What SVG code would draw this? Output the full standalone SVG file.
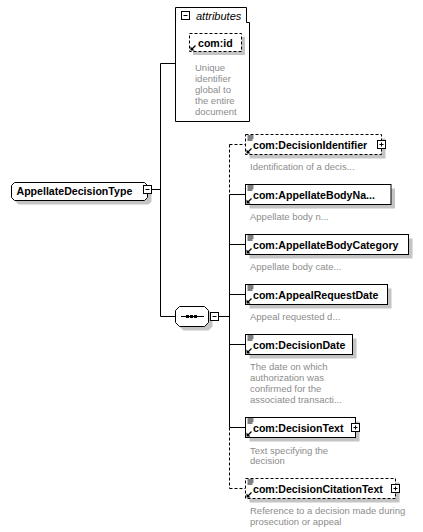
<svg xmlns="http://www.w3.org/2000/svg" width="423" height="532" viewBox="0 0 423 532">
<style>
.box{fill:#fff;stroke:#000;stroke-width:1}
.dash{stroke-dasharray:3,2}
.sh{fill:#c4c4c4}
.ln{fill:none;stroke:#000;stroke-width:1}
.nm{font-family:"Liberation Sans",Arial,sans-serif;font-weight:bold;font-size:10.6px;fill:#000}
.ds{font-family:"Liberation Sans",Arial,sans-serif;font-size:9.5px;fill:#8c8c8c}
.it{font-family:"Liberation Sans",Arial,sans-serif;font-style:italic;font-size:11px;fill:#000}
.pm{fill:#fff;stroke:#000;stroke-width:1}
</style>
<defs>
<g id="eq"><path d="M2,1.5h6M2,3.5h6M2,5.5h5" stroke="#000" stroke-width="1" fill="none"/></g>
<g id="ar"><path d="M1,-1 L1,-5 L5,-1 Z" fill="#000"/><path d="M2,-2 L6,-6" stroke="#000" stroke-width="1.2"/></g>
<g id="minus"><rect class="pm" x="0" y="0" width="8" height="8"/><path d="M2,4h4" stroke="#000"/></g>
<g id="plus"><rect class="pm" x="0" y="0" width="8" height="8"/><path d="M2,4h4M4,2v4" stroke="#000"/></g>
</defs>

<g id="connectors" class="ln">
<path d="M151.5,189.5 H160.5"/>
<path d="M160.5,63.5 V316.5"/>
<path d="M160.5,63.5 H175.5"/>
<path d="M160.5,316.5 H175.5"/>
<path d="M218.5,316.5 H229.5"/>
<path d="M229.5,194.5 V427.5"/>
<path class="dash" d="M229.5,144.5 V194.5"/>
<path class="dash" d="M229.5,427.5 V488.5"/>
<path class="dash" d="M229.5,144.5 H245.5"/>
<path d="M229.5,194.5 H245.5"/>
<path d="M229.5,244.5 H245.5"/>
<path d="M229.5,294.5 H245.5"/>
<path d="M229.5,344.5 H245.5"/>
<path d="M229.5,427.5 H245.5"/>
<path class="dash" d="M229.5,488.5 H245.5"/>
</g>

<g id="root">
<path class="sh" d="M18.5,186.5 H148.5 L151.5,189.5 V201.5 L148.5,204.5 H18.5 L15.5,201.5 V189.5 Z"/>
<path class="box" d="M14.5,182.5 H144.5 L147.5,185.5 V197.5 L144.5,200.5 H14.5 L11.5,197.5 V185.5 Z"/>
<text class="nm" x="16.5" y="195">AppellateDecisionType</text>
<use href="#minus" x="143.5" y="185.5"/>
</g>

<g id="attributes">
<path class="box" d="M175.5,7.5 H246.5 V22.5 H249.5 V121.5 H175.5 Z"/>
<use href="#minus" x="181.5" y="11.5"/>
<text class="it" x="196" y="19.5">attributes</text>
<rect class="sh" x="193" y="37" width="52" height="18"/>
<rect class="box dash" x="189.5" y="33.5" width="52" height="18"/>
<use href="#ar" x="189.5" y="51.5"/>
<text class="nm" x="198" y="47">com:id</text>
<text class="ds" x="195" y="71">Unique</text>
<text class="ds" x="195" y="82">identifier</text>
<text class="ds" x="195" y="93">global to</text>
<text class="ds" x="195" y="104">the entire</text>
<text class="ds" x="195" y="115">document</text>
</g>

<g id="sequence">
<path class="sh" d="M183.5,310.5 H208.5 L212.5,314.5 V326.5 L208.5,330.5 H183.5 L179.5,326.5 V314.5 Z"/>
<path class="box" d="M179.5,306.5 H204.5 L208.5,310.5 V322.5 L204.5,326.5 H179.5 L175.5,322.5 V310.5 Z"/>
<path d="M181,316.5 H204" stroke="#000"/>
<rect x="186" y="315" width="3" height="3" fill="#000"/>
<rect x="190" y="315" width="3" height="3" fill="#000"/>
<rect x="194" y="315" width="3" height="3" fill="#000"/>
<use href="#minus" x="210.5" y="312.5"/>
</g>

<g id="DecisionIdentifier">
<rect class="sh" x="249.5" y="138.5" width="136" height="20"/>
<rect class="box dash" x="245.5" y="134.5" width="136" height="20"/>
<use href="#eq" x="245.5" y="134.5"/><use href="#ar" x="245.5" y="154.5"/>
<text class="nm" x="253" y="149">com:DecisionIdentifier</text>
<use href="#plus" x="377.5" y="140.5"/>
<text class="ds" x="250" y="170">Identification of a decis...</text>
</g>

<g id="AppellateBodyName">
<rect class="sh" x="249.5" y="188.5" width="145.5" height="20"/>
<rect class="box" x="245.5" y="184.5" width="145.5" height="20"/>
<use href="#eq" x="245.5" y="184.5"/><use href="#ar" x="245.5" y="204.5"/>
<text class="nm" x="253" y="199">com:AppellateBodyNa...</text>
<text class="ds" x="250" y="220">Appellate body n...</text>
</g>

<g id="AppellateBodyCategory">
<rect class="sh" x="249.5" y="238.5" width="163" height="20"/>
<rect class="box" x="245.5" y="234.5" width="163" height="20"/>
<use href="#eq" x="245.5" y="234.5"/><use href="#ar" x="245.5" y="254.5"/>
<text class="nm" x="253" y="249">com:AppellateBodyCategory</text>
<text class="ds" x="250" y="270">Appellate body cate...</text>
</g>

<g id="AppealRequestDate">
<rect class="sh" x="249.5" y="288.5" width="142" height="20"/>
<rect class="box" x="245.5" y="284.5" width="142" height="20"/>
<use href="#eq" x="245.5" y="284.5"/><use href="#ar" x="245.5" y="304.5"/>
<text class="nm" x="253" y="299">com:AppealRequestDate</text>
<text class="ds" x="250" y="320">Appeal requested d...</text>
</g>

<g id="DecisionDate">
<rect class="sh" x="249.5" y="338.5" width="107" height="20"/>
<rect class="box" x="245.5" y="334.5" width="107" height="20"/>
<use href="#eq" x="245.5" y="334.5"/><use href="#ar" x="245.5" y="354.5"/>
<text class="nm" x="253" y="349">com:DecisionDate</text>
<text class="ds" x="250" y="370">The date on which</text>
<text class="ds" x="250" y="381">authorization was</text>
<text class="ds" x="250" y="392">confirmed for the</text>
<text class="ds" x="250" y="403">associated transacti...</text>
</g>

<g id="DecisionText">
<rect class="sh" x="249.5" y="421.5" width="110" height="20"/>
<rect class="box" x="245.5" y="417.5" width="110" height="20"/>
<use href="#eq" x="245.5" y="417.5"/><use href="#ar" x="245.5" y="437.5"/>
<text class="nm" x="253" y="432">com:DecisionText</text>
<use href="#plus" x="351.5" y="423.5"/>
<text class="ds" x="250" y="453.5">Text specifying the</text>
<text class="ds" x="250" y="464">decision</text>
</g>

<g id="DecisionCitationText">
<rect class="sh" x="249.5" y="482.5" width="150" height="20"/>
<rect class="box dash" x="245.5" y="478.5" width="150" height="20"/>
<use href="#eq" x="245.5" y="478.5"/><use href="#ar" x="245.5" y="498.5"/>
<text class="nm" x="253" y="493">com:DecisionCitationText</text>
<use href="#plus" x="391.5" y="484.5"/>
<text class="ds" x="250" y="514">Reference to a decision made during</text>
<text class="ds" x="250" y="524.5">prosecution or appeal</text>
</g>
</svg>
